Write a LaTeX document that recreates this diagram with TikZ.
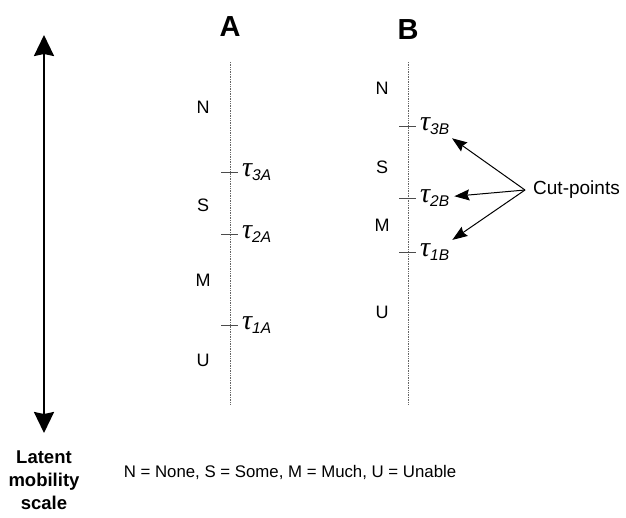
\documentclass[tikz,border=0pt]{standalone}
\usepackage{fontspec}
\setmainfont{Liberation Sans}
\newfontfamily\greekfont{Liberation Serif}
\usetikzlibrary{arrows.meta, positioning}

\newcommand{\tausub}[1]{{\greekfont\itshape τ}\raisebox{-4.5pt}{\fontsize{15.5}{17}\selectfont\itshape #1}}

\begin{document}
\begin{tikzpicture}[
  x=1pt, y=-1pt,
  >=Stealth,
  cat/.style={font=\fontsize{18}{20}\selectfont, inner sep=0pt},
  head/.style={font=\fontsize{29}{32}\selectfont\bfseries, inner sep=0pt},
  taulab/.style={font=\fontsize{28}{30}\selectfont, inner sep=1pt, anchor=west},
  cutlab/.style={font=\fontsize{19}{22}\selectfont, inner sep=0pt, anchor=west},
  axislab/.style={font=\fontsize{18.5}{23}\selectfont\bfseries, align=center, inner sep=0pt},
  legend/.style={font=\fontsize{16.8}{19}\selectfont, inner sep=0pt},
  dotaxis/.style={densely dotted, black!60, line width=0.7pt},
  cuttick/.style={black!70, line width=0.7pt},
  cutarr/.style={-{Stealth[length=15pt, width=11pt, inset=2pt]}, line width=1pt},
  bigarr/.style={{Stealth[length=21pt, width=20pt, inset=2pt]}-{Stealth[length=21pt, width=20pt, inset=2pt]}, line width=2.2pt},
]
\useasboundingbox (0,0) rectangle (626,517);

% Latent scale
\coordinate (sTop) at (44,35);
\coordinate (sBot) at (44,433);
\draw[bigarr] (sTop) -- (sBot);
\node[axislab, anchor=north] (scl) at (44,451) {Latent\\mobility\\scale};

% Scale A
\node[head] (hA) at (230,27) {A};
\coordinate (aTop) at (230,62);
\coordinate (aBot) at (230,405);
\draw[dotaxis] (aTop) -- (aBot);
\node[cat] (aN) at (203,107) {N};
\node[cat] (aS) at (203,205) {S};
\node[cat] (aM) at (203,280) {M};
\node[cat] (aU) at (203,360) {U};
\foreach \k/\yy in {3/172, 2/234, 1/325} {
  \coordinate (tA\k) at (230,\yy);
  \draw[cuttick] ([xshift=-9pt]tA\k) -- ([xshift=8pt]tA\k) coordinate (eA\k);
  \node[taulab, right=3pt of eA\k] (lA\k) {\tausub{\k A}};
}

% Scale B
\node[head] (hB) at (408,30) {B};
\coordinate (bTop) at (408,62);
\coordinate (bBot) at (408,405);
\draw[dotaxis] (bTop) -- (bBot);
\node[cat] (bN) at (382,88) {N};
\node[cat] (bS) at (382,167) {S};
\node[cat] (bM) at (382,225) {M};
\node[cat] (bU) at (382,312) {U};
\foreach \k/\yy in {3/126, 2/198, 1/252} {
  \coordinate (tB\k) at (408,\yy);
  \draw[cuttick] ([xshift=-9pt]tB\k) -- ([xshift=8pt]tB\k) coordinate (eB\k);
  \node[taulab, right=3pt of eB\k] (lB\k) {\tausub{\k B}};
}

% Cut-points
\node[cutlab] (cut) at (533,190) {Cut-points};
\coordinate[left=8pt of cut.west] (cpt);
\foreach \k in {3,2,1}
  \draw[cutarr, shorten >=4pt] (cpt) -- (lB\k);

% Legend
\node[legend] (leg) at (290,472) {N = None, S = Some, M = Much, U = Unable};

\end{tikzpicture}
\end{document}
